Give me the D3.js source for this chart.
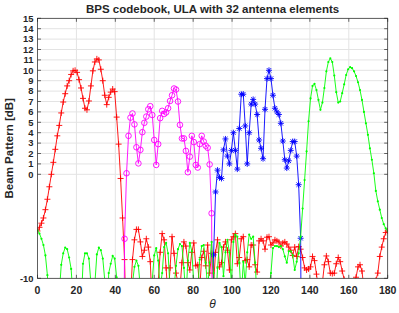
<!DOCTYPE html>
<html>
<head>
<meta charset="utf-8">
<script src="https://cdn.jsdelivr.net/npm/d3@7/dist/d3.min.js"></script>
<style>
  body { margin: 0; background: #fff; }
  text { font-family: "Liberation Sans", Arial, sans-serif; fill: #262626; }
</style>
</head>
<body>
<svg id="chart" width="399" height="313"></svg>
<script>
// beam patterns, sampled on 178 angles evenly spread over 0..180 deg
var nSamples = 178;

var redStart = 0;
var redDb = [
  -5.45, -5.1, -4.7, -4.2, -3.4, -2.4, -1.2, 0.0, 1.15, 2.4,
  3.7, 4.7, 5.9, 6.95, 7.75, 8.5, 9.0, 9.6, 9.95, 10.0,
  9.8, 9.1, 8.3, 7.3, 6.35, 6.2, 7.05, 8.5, 9.95, 10.8,
  11.1, 11.0, 10.1, 9.0, 7.6, 6.7, 7.4, 7.9, 8.2, 7.95,
  5.5, 2.9, -0.4, -4.2, -8.2, -16, -25, -12, -8.2, -6.3,
  -5.3, -5.3, -6.5, -7.9, -7.3, -6.2, -7.0, -8.4, -13, -20,
  -14, -10.5, -7.5, -5.7, -6.3, -9.0, -12, -9.0, -6.0, -7.6,
  -9.5, -10.4, -11, -8.5, -6.5, -6.9, -8.5, -9.2, -7.5, -6.6,
  -8.8, -8.7, -11, -8.0, -7.4, -8.8, -6.8, -9.5, -7.6, -10.5,
  -7.5, -6.3, -8.9, -8.5, -7.0, -6.5, -7.3, -9.2, -6.3, -6.0,
  -5.7, -8.6, -8.0, -6.2, -6.0, -8.3, -8.2, -8.9, -6.8, -6.8,
  -8.7, -9.4, -6.4, -6.2, -6.4, -7.2, -6.05, -6.0, -6.8, -6.6,
  -6.3, -6.4, -6.5, -6.9, -6.6, -6.5, -6.7, -7.0, -7.3, -7.8,
  -7.0, -7.9, -6.95, -7.2, -8.0, -9.0, -9.2, -9.1, -8.9, -7.9,
  -8.3, -9.6, -11, -12, -10.4, -8.7, -7.85, -8.4, -9.5, -9.55,
  -9.5, -8.6, -8.0, -8.4, -9.3, -10.1, -13, -18, -13, -11,
  -10.4, -9.9, -8.9, -8.7, -9.3, -11, -15, -20, -18, -14,
  -11, -10.2, -9.5, -7.9, -7.0, -6.2, -5.6, -5.45
];

var magentaStart = 43;
var magentaDb = [
  -40, -6.2, 0.1, 3.7, 5.45, 5.85, 4.8, 2.6, 1.05, 2.35,
  4.05, 4.95, 5.55, 6.25, 6.55, 5.7, 3.3, 0.9, 2.9, 5.4,
  6.1, 5.8, 5.95, 6.35, 7.05, 7.6, 8.25, 8.15, 7.0, 4.75,
  3.45, 3.45, 2.25, 0.2, 1.7, 3.7, 3.1, 0.9, 0.65, 2.9,
  3.7, 3.15, 2.75, 2.55, 0.95, -3.75, -40
];

var blueStart = 88;
var blueDb = [
  -40, -7.75, -1.7, 0.4, -0.3, -0.4, 2.35, 3.4, 1.75, 1.0,
  2.3, 4.0, 2.3, 0.5, 4.4, 7.7, 7.7, 4.65, 1.0, 4.0,
  6.75, 7.2, 6.75, 5.75, 3.3, 2.5, 1.5, 6.25, 9.2, 10.0,
  9.2, 7.6, 6.35, 6.0, 5.75, 4.9, 3.2, 1.4, 0.6, 1.3,
  2.3, 3.15, 3.15, 1.75, -1.0, -6.15, -40
];

var greenStart = 0;
var greenDb = [
  -5.4, -5.7, -6.2, -6.8, -7.8, -9.7, -14, -22, -30, -22,
  -15, -11.5, -8.7, -7.6, -7.05, -7.2, -8.0, -9.1, -12, -18,
  -25, -18, -13, -8.6, -7.6, -7.6, -8.1, -10.5, -16, -10.5,
  -7.7, -7.05, -7.3, -8.1, -10.2, -15, -9.5, -8.6, -7.85, -8.1,
  -9.9, -14, -20, -25, -20, -15, -12, -11, -10.5, -8.9,
  -8.3, -8.8, -11, -14, -18, -13, -10.5, -12, -10.2, -7.8,
  -7.1, -8.3, -11, -9.5, -7.0, -6.6, -7.6, -11, -15, -11,
  -8.8, -7.2, -6.7, -6.9, -9.0, -12, -8.3, -6.6, -7.4, -10.5,
  -14, -11, -8.2, -6.9, -6.8, -8.5, -11, -8.5, -6.5, -9.5,
  -13, -9.0, -6.6, -7.0, -9.8, -7.5, -6.3, -7.5, -10.5, -6.5,
  -5.8, -6.0, -8.5, -12, -8.4, -10.5, -7.5, -5.8, -6.2, -6.0,
  -8.5, -12, -16, -20, -15, -13, -15, -11, -9.5, -7.1,
  -6.9, -6.9, -7.0, -6.9, -7.2, -7.9, -8.5, -7.4, -7.4, -7.8,
  -9.2, -8.4, -7.6, -6.0, -3.3, -0.55, 2.2, 5.1, 7.3, 8.5,
  8.7, 8.1, 7.15, 6.2, 6.9, 8.3, 9.9, 10.8, 11.15, 10.8,
  9.5, 7.9, 6.9, 7.0, 7.8, 8.65, 9.55, 10.1, 10.3, 10.2,
  9.9, 9.45, 8.85, 8.1, 7.15, 6.0, 4.9, 3.8, 2.5, 1.4,
  0.1, -1.6, -2.6, -3.4, -4.2, -4.8, -5.2, -5.45
];

var xTicks = [0, 20, 40, 60, 80, 100, 120, 140, 160, 180];
var yTicks = [-10, 0, 1, 2, 3, 4, 5, 6, 7, 8, 9, 10, 11, 12, 13, 14, 15];

var titleText = 'BPS codebook, ULA with 32 antenna elements';
var yLabelText = 'Beam Pattern [dB]';
var xLabelText = '\u03b8';

var width = 399, height = 313;
var margins = { left: 37.5, right: 11.3, top: 18.3, bottom: 34.7 };
var plotW = width - margins.left - margins.right;
var plotH = height - margins.top - margins.bottom;

var xScale = d3.scaleLinear().domain([0, 180]).range([0, plotW]);
var yScale = d3.scaleLinear().domain([-10, 15]).range([plotH, 0]);
var step = 180 / (nSamples - 1);

var svg = d3.select('#chart');

var viewport = svg.append('g')
  .attr('class', 'viewport')
  .attr('transform', 'translate(' + margins.left + ', ' + margins.top + ')');

svg.append('defs').append('clipPath')
  .attr('id', 'plot-clip')
  .append('rect')
  .attr('x', 0).attr('y', 0)
  .attr('width', plotW).attr('height', plotH);

// grid
var grid = viewport.append('g').attr('class', 'grid')
  .attr('stroke', '#e3e3e3').attr('stroke-width', 1);
grid.selectAll('line.gx').data(xTicks).enter().append('line')
  .attr('class', 'gx')
  .attr('x1', function(d) { return xScale(d); })
  .attr('x2', function(d) { return xScale(d); })
  .attr('y1', 0).attr('y2', plotH);
grid.selectAll('line.gy').data(yTicks).enter().append('line')
  .attr('class', 'gy')
  .attr('y1', function(d) { return yScale(d); })
  .attr('y2', function(d) { return yScale(d); })
  .attr('x1', 0).attr('x2', plotW);

// series
var series = [
  { start: redStart, vals: redDb, color: '#ff0000', marker: 'plus' },
  { start: magentaStart, vals: magentaDb, color: '#ff00ff', marker: 'circle' },
  { start: blueStart, vals: blueDb, color: '#0000ff', marker: 'star' },
  { start: greenStart, vals: greenDb, color: '#00ff00', marker: 'dot' }
];

var line = d3.line()
  .x(function(d) { return xScale(d.t); })
  .y(function(d) { return yScale(d.v); });

var plot = viewport.append('g').attr('clip-path', 'url(#plot-clip)');

function markerPath(type) {
  var s = 3;
  var d = 2.2;
  if (type === 'plus') {
    return 'M' + (-s) + ',0H' + s + 'M0,' + (-s) + 'V' + s;
  }
  if (type === 'star') {
    return 'M' + (-s) + ',0H' + s + 'M0,' + (-s) + 'V' + s +
      'M' + (-d) + ',' + (-d) + 'L' + d + ',' + d +
      'M' + (-d) + ',' + d + 'L' + d + ',' + (-d);
  }
  return '';
}

series.forEach(function(s) {
  var pts = s.vals.map(function(v, i) { return { t: (s.start + i) * step, v: v }; });
  var g = plot.append('g');

  g.append('path')
    .datum(pts)
    .attr('d', line)
    .attr('fill', 'none')
    .attr('stroke', s.color)
    .attr('stroke-width', 0.9)
    .attr('stroke-linejoin', 'round');

  var shown = pts.filter(function(d) { return d.v > -11; });

  if (s.marker === 'circle') {
    g.selectAll('circle').data(shown).enter().append('circle')
      .attr('cx', function(d) { return xScale(d.t); })
      .attr('cy', function(d) { return yScale(d.v); })
      .attr('r', 2.8)
      .attr('fill', 'none')
      .attr('stroke', s.color)
      .attr('stroke-width', 0.9);
  } else if (s.marker === 'dot') {
    g.selectAll('circle').data(shown).enter().append('circle')
      .attr('cx', function(d) { return xScale(d.t); })
      .attr('cy', function(d) { return yScale(d.v); })
      .attr('r', 1.1)
      .attr('fill', s.color);
  } else {
    g.selectAll('path.mk').data(shown).enter().append('path')
      .attr('class', 'mk')
      .attr('transform', function(d) { return 'translate(' + xScale(d.t) + ',' + yScale(d.v) + ')'; })
      .attr('d', markerPath(s.marker))
      .attr('fill', 'none')
      .attr('stroke', s.color)
      .attr('stroke-width', 0.9);
  }
});

// axes box with inward ticks
var axisColor = '#262626';
var tickLen = 3.5;
var box = viewport.append('g').attr('stroke', axisColor).attr('stroke-width', 0.7).attr('fill', 'none');
box.append('rect').attr('x', 0).attr('y', 0).attr('width', plotW).attr('height', plotH);

box.selectAll('line.tb').data(xTicks).enter().append('line')
  .attr('x1', function(d) { return xScale(d); })
  .attr('x2', function(d) { return xScale(d); })
  .attr('y1', plotH).attr('y2', plotH - tickLen);
box.selectAll('line.tt').data(xTicks).enter().append('line')
  .attr('x1', function(d) { return xScale(d); })
  .attr('x2', function(d) { return xScale(d); })
  .attr('y1', 0).attr('y2', tickLen);
box.selectAll('line.tl').data(yTicks).enter().append('line')
  .attr('y1', function(d) { return yScale(d); })
  .attr('y2', function(d) { return yScale(d); })
  .attr('x1', 0).attr('x2', tickLen);
box.selectAll('line.tr').data(yTicks).enter().append('line')
  .attr('y1', function(d) { return yScale(d); })
  .attr('y2', function(d) { return yScale(d); })
  .attr('x1', plotW).attr('x2', plotW - tickLen);

// tick labels
viewport.append('g').selectAll('text').data(xTicks).enter().append('text')
  .attr('x', function(d) { return xScale(d); })
  .attr('y', plotH + 15.5)
  .attr('text-anchor', 'middle')
  .attr('font-size', '10.5px')
  .attr('font-weight', 'bold')
  .text(function(d) { return d; });

viewport.append('g').selectAll('text').data(yTicks).enter().append('text')
  .attr('x', -4)
  .attr('y', function(d) { return yScale(d); })
  .attr('dy', '0.36em')
  .attr('text-anchor', 'end')
  .attr('font-size', '9.4px')
  .attr('font-weight', 'bold')
  .text(function(d) { return d; });

// labels
svg.append('text')
  .attr('x', margins.left + plotW / 2)
  .attr('y', 12.5)
  .attr('text-anchor', 'middle')
  .attr('font-size', '11.5px')
  .attr('font-weight', 'bold')
  .text(titleText);

svg.append('text')
  .attr('transform', 'translate(13, ' + (margins.top + plotH / 2) + ') rotate(-90)')
  .attr('text-anchor', 'middle')
  .attr('font-size', '11.5px')
  .attr('font-weight', 'bold')
  .text(yLabelText);

svg.append('text')
  .attr('x', margins.left + plotW / 2)
  .attr('y', 308)
  .attr('text-anchor', 'middle')
  .attr('font-size', '12px')
  .attr('font-style', 'italic')
  .text(xLabelText);
</script>
</body>
</html>
